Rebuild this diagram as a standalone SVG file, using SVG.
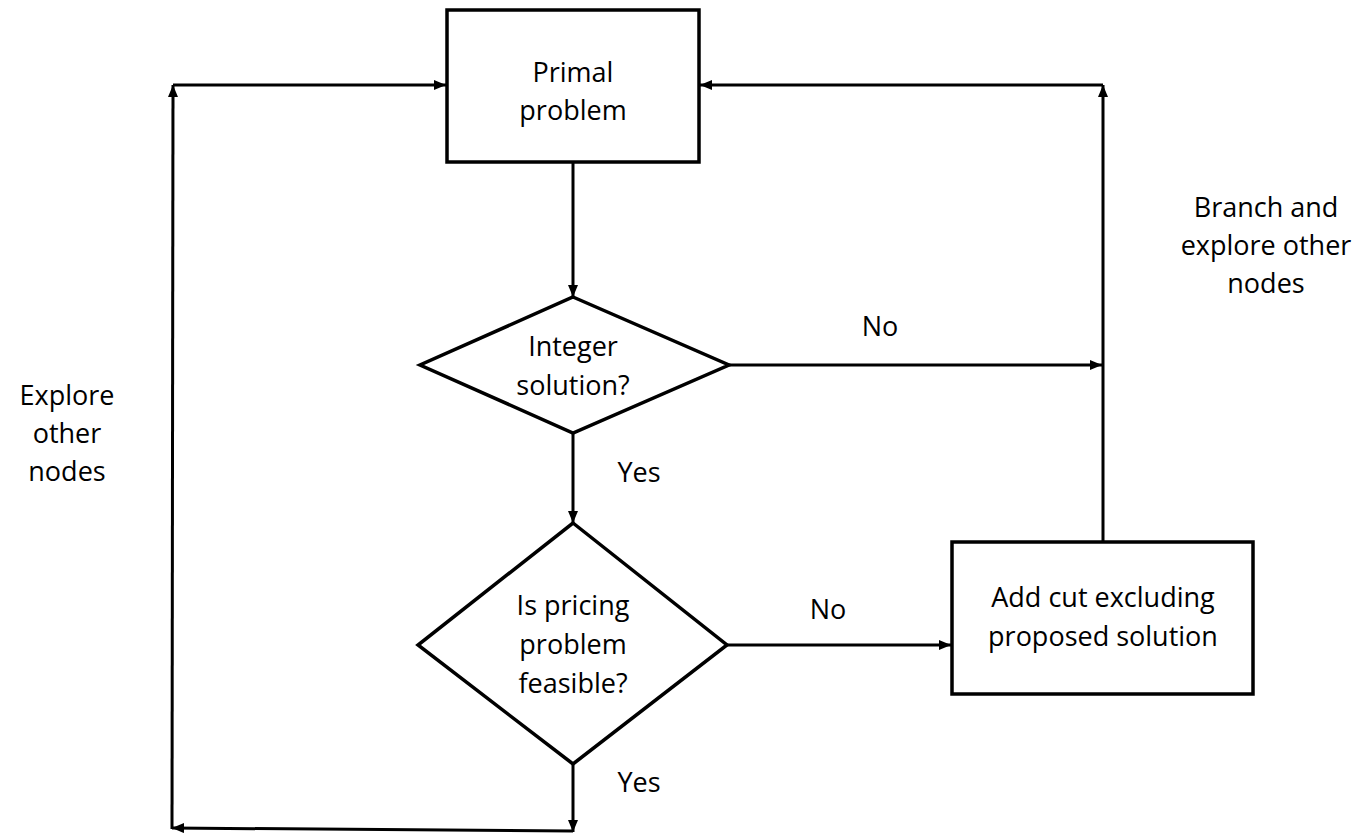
<svg xmlns="http://www.w3.org/2000/svg" width="1368" height="836" viewBox="0 0 1368 836">
  <style>
    .shape { fill: #ffffff; stroke: #000000; stroke-width: 3.5; }
    .conn { fill: none; stroke: #000000; stroke-width: 3; marker-end: url(#arrow); }
    .plain { fill: none; stroke: #000000; stroke-width: 3; }
    text { font-family: "Open Sans", "Noto Sans", sans-serif; font-size: 27px; fill: #000000; text-anchor: middle; }
  </style>
  <defs>
    <marker id="arrow" viewBox="0 0 12 10" refX="12" refY="5" markerWidth="12" markerHeight="10" markerUnits="userSpaceOnUse" orient="auto">
      <path d="M0,0 L12,5 L0,10 z" fill="#000000"/>
    </marker>
  </defs>
  <rect width="1368" height="836" fill="#ffffff"/>

  <!-- connectors -->
  <g id="connectors">
    <line class="conn" x1="573" y1="163" x2="573" y2="297"/>
    <line class="conn" x1="573" y1="434" x2="573" y2="523"/>
    <line class="conn" x1="729" y1="365" x2="1102" y2="365"/>
    <line class="conn" x1="727" y1="645" x2="951" y2="645"/>
    <line class="conn" x1="1103" y1="541" x2="1103" y2="85"/>
    <line class="conn" x1="1103" y1="85" x2="700" y2="85"/>
    <line class="conn" x1="573" y1="765" x2="573" y2="832"/>
    <line class="conn" x1="573" y1="831" x2="172" y2="828"/>
    <line class="conn" x1="172" y1="829" x2="173" y2="85"/>
    <line class="conn" x1="173" y1="85" x2="446" y2="85"/>
    <text x="880" y="336">No</text>
    <text x="828" y="619">No</text>
    <text x="639" y="482">Yes</text>
    <text x="639" y="792">Yes</text>
  </g>

  <g id="primal">
    <rect class="shape" x="447" y="10" width="252" height="152"/>
    <text x="573" y="82">Primal</text>
    <text x="573" y="120">problem</text>
  </g>

  <g id="integer-check">
    <polygon class="shape" points="573,297 729,365 573,433 420,365"/>
    <text x="573" y="356">Integer</text>
    <text x="573" y="395">solution?</text>
  </g>

  <g id="pricing-check">
    <polygon class="shape" points="573,523 727,645 573,764 418,645"/>
    <text x="573" y="615">Is pricing</text>
    <text x="573" y="654">problem</text>
    <text x="573" y="693">feasible?</text>
  </g>

  <g id="add-cut">
    <rect class="shape" x="952" y="542" width="301" height="152"/>
    <text x="1103" y="607">Add cut excluding</text>
    <text x="1103" y="646">proposed solution</text>
  </g>

  <g id="explore-label">
    <text x="67" y="405">Explore</text>
    <text x="67" y="443">other</text>
    <text x="67" y="481">nodes</text>
  </g>

  <g id="branch-label">
    <text x="1266" y="217">Branch and</text>
    <text x="1266" y="255">explore other</text>
    <text x="1266" y="293">nodes</text>
  </g>
</svg>
